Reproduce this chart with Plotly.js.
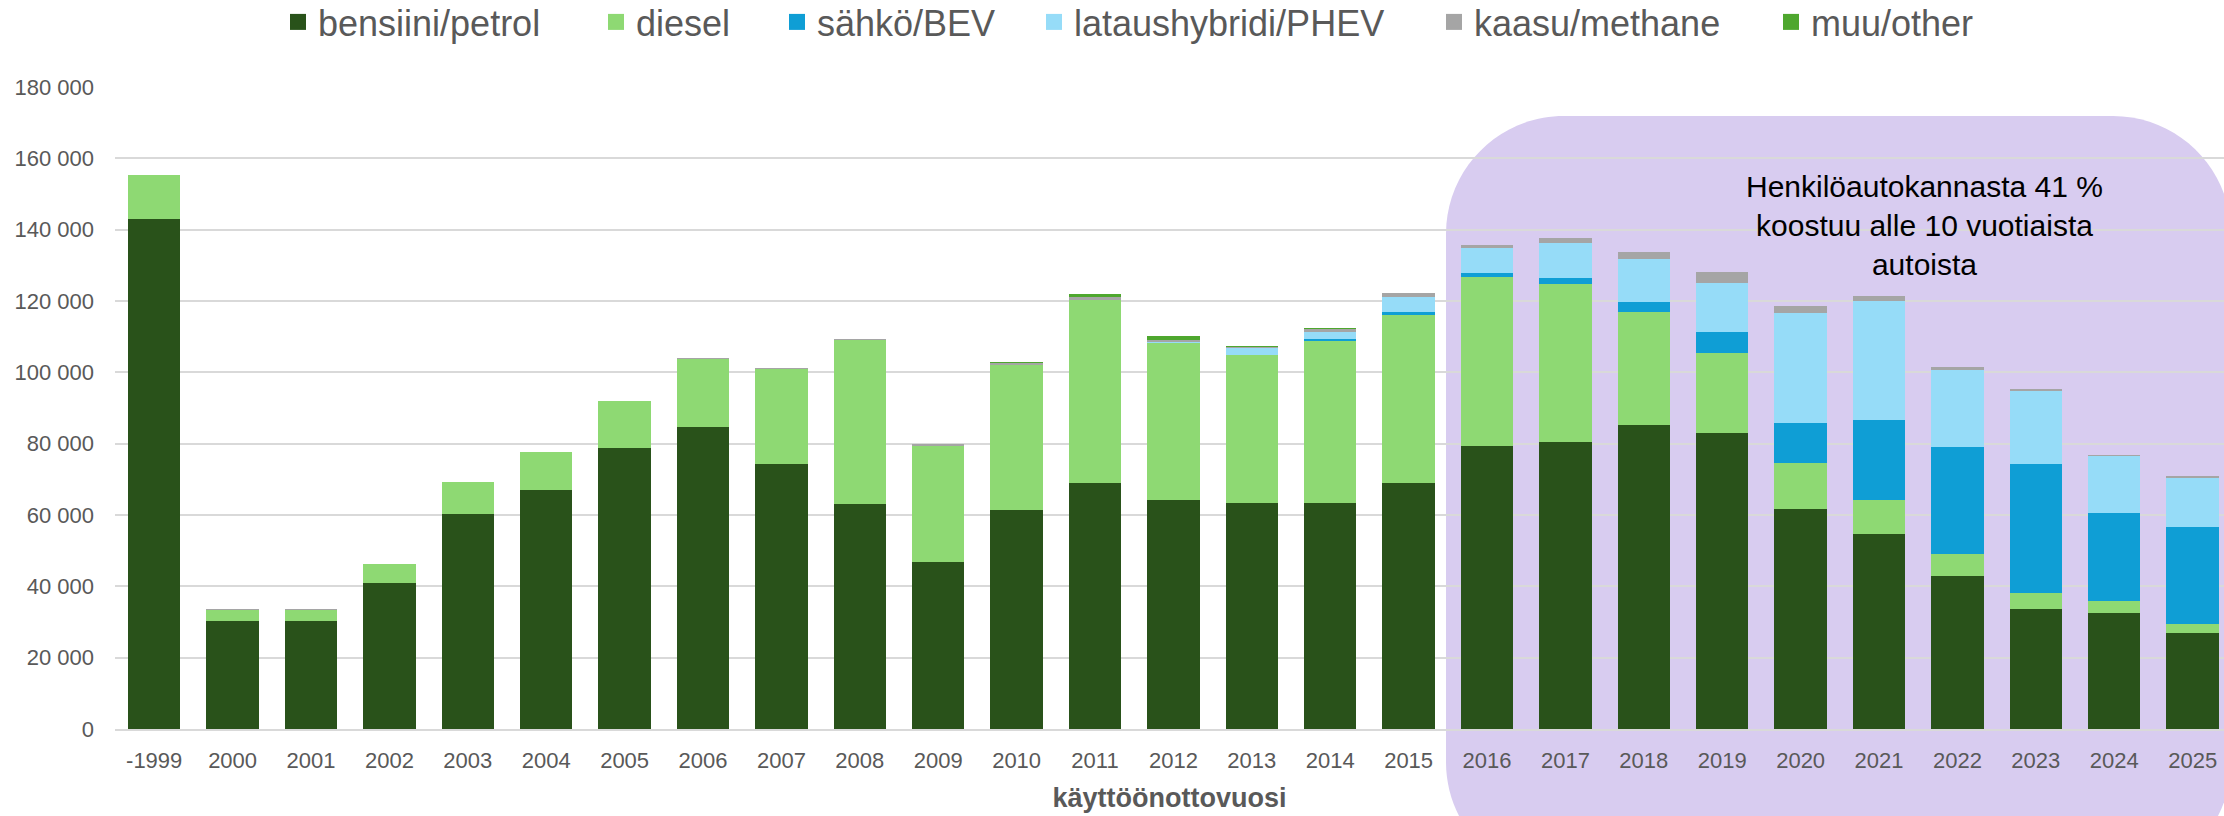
<!DOCTYPE html>
<html>
<head>
<meta charset="utf-8">
<script src="https://cdn.plot.ly/plotly-3.0.1.min.js"></script>
<style>html,body{margin:0;padding:0;background:#fff;}#chart{width:2224px;height:816px;}</style>
</head>
<body>
<div id="chart"></div>
<script>
// ---- data ----
const categories = ["-1999","2000","2001","2002","2003","2004","2005","2006","2007","2008","2009","2010","2011","2012","2013","2014","2015","2016","2017","2018","2019","2020","2021","2022","2023","2024","2025"];
const petrol  = [143000,30400,30400,40900,60300,67100,78900,84700,74300,63000,46800,61300,69000,64300,63300,63300,69100,79300,80500,85200,83100,61600,54800,42800,33600,32500,26800];
const diesel  = [12200,3100,3100,5400,8900,10600,13100,19100,26600,46000,32600,40800,51300,43800,41500,45600,47000,47400,44300,31800,22300,13000,9500,6400,4600,3300,2600];
const bev     = [0,0,0,0,0,0,0,0,0,0,0,0,0,100,100,400,700,1100,1650,2700,6000,11300,22300,29900,36100,24700,27200];
const phev    = [0,0,0,0,0,0,0,0,0,0,0,0,100,400,1800,1900,4300,7000,9800,12200,13600,30600,33500,21500,20600,16000,13900];
const methane = [0,100,100,100,100,100,100,200,300,300,400,400,800,600,500,900,1100,900,1400,1800,3000,2200,1300,900,400,300,300];
const other   = [0,0,0,0,0,0,0,0,0,0,0,400,900,1100,300,400,100,100,0,0,0,0,0,0,0,0,0];
const seriesNames = ["bensiini/petrol","diesel","sähkö/BEV","lataushybridi/PHEV","kaasu/methane","muu/other"];
const seriesColors = ["#29521A","#8ED973","#0F9ED5","#96DCF8","#A5A5A5","#4EA72E"];
const yTicks = [0,20000,40000,60000,80000,100000,120000,140000,160000,180000];
const xTitle = "käyttöönottovuosi";
const noteText = "Henkilöautokannasta 41 %<br>koostuu alle 10 vuotiaista<br>autoista";

// ---- layout geometry (pixels) ----
const W = 2224, H = 816;
const mL = 115, mR = 0, mT = 87, mB = 87;
const plotW = W - mL - mR, plotH = H - mT - mB;
const px2x = p => (p - mL) / plotW;
const px2y = p => (H - mB - p) / plotH;
const FONT = "'Liberation Sans', Arial, sans-serif";

// legend entry text start positions (pixels), one legend box per series
const legendTextStart = [318, 636, 817, 1074, 1474, 1811];

// rounded highlight box (pixel geometry)
const bx0 = 1446, bx1 = 2231, by0 = 116, by1 = 880, rad = 118;
const k = 0.5523 * rad;
function P(x, y) { return px2x(x).toFixed(5) + "," + px2y(y).toFixed(5); }
const boxPath =
  "M" + P(bx0 + rad, by0) +
  " L" + P(bx1 - rad, by0) +
  " C" + P(bx1 - rad + k, by0) + " " + P(bx1, by0 + rad - k) + " " + P(bx1, by0 + rad) +
  " L" + P(bx1, by1 - rad) +
  " C" + P(bx1, by1 - rad + k) + " " + P(bx1 - rad + k, by1) + " " + P(bx1 - rad, by1) +
  " L" + P(bx0 + rad, by1) +
  " C" + P(bx0 + rad - k, by1) + " " + P(bx0, by1 - rad + k) + " " + P(bx0, by1 - rad) +
  " L" + P(bx0, by0 + rad) +
  " C" + P(bx0, by0 + rad - k) + " " + P(bx0 + rad - k, by0) + " " + P(bx0 + rad, by0) + " Z";

const values = [petrol, diesel, bev, phev, methane, other];
const legendIds = ["legend", "legend2", "legend3", "legend4", "legend5", "legend6"];

// stacked bars (legend entries shown via square-marker proxies below)
const barTraces = values.map((v, i) => ({
  type: "bar",
  name: seriesNames[i],
  x: categories,
  y: v,
  legendgroup: "g" + i,
  showlegend: false,
  marker: { color: seriesColors[i], line: { width: 0 } }
}));
const legendTraces = seriesNames.map((n, i) => ({
  type: "scatter",
  mode: "markers",
  name: n,
  x: [null], y: [null],
  legendgroup: "g" + i,
  legend: legendIds[i],
  showlegend: true,
  marker: { symbol: "square", size: 20, color: seriesColors[i], line: { width: 0 } }
}));

const layout = {
  width: W, height: H,
  margin: { l: mL, r: mR, t: mT, b: mB, pad: 0, autoexpand: false },
  paper_bgcolor: "#ffffff",
  plot_bgcolor: "rgba(0,0,0,0)",
  barmode: "stack",
  bargap: 0.333,
  separators: ", ",
  showlegend: true,
  xaxis: {
    type: "category",
    categoryorder: "array", categoryarray: categories,
    range: [-0.5, 26.4],
    showgrid: false,
    showline: true, linecolor: "#d9d9d9", linewidth: 2,
    ticks: "", ticklabelstandoff: 11,
    tickfont: { family: FONT, size: 22, color: "#595959" },
    title: { text: xTitle, font: { family: FONT, size: 27, color: "#595959", weight: "bold" }, standoff: 16 },
    automargin: false,
    fixedrange: true
  },
  yaxis: {
    range: [0, 180000],
    tickvals: yTicks,
    tickformat: ",.0f",
    showgrid: true, gridcolor: "#d9d9d9", gridwidth: 2,
    zeroline: false,
    showline: false,
    ticks: "", ticklabelstandoff: 20,
    tickfont: { family: FONT, size: 22, color: "#595959" },
    automargin: false,
    fixedrange: true
  },
  shapes: [{
    type: "path", xref: "paper", yref: "paper", layer: "below",
    path: boxPath, fillcolor: "#D8CCF0", line: { width: 0 }
  }],
  annotations: [{
    xref: "paper", yref: "paper",
    x: px2x(1924), y: px2y(225),
    xanchor: "center", yanchor: "middle",
    text: noteText, showarrow: false, align: "center",
    font: { family: FONT, size: 30, color: "#000000" }
  }]
};

legendIds.forEach((id, i) => {
  layout[id] = {
    orientation: "h",
    x: px2x(legendTextStart[i] - 40), xanchor: "left",
    y: px2y(22), yanchor: "middle",
    itemsizing: "trace",
    font: { family: FONT, size: 36, color: "#595959" },
    bgcolor: "rgba(0,0,0,0)",
    borderwidth: 0
  };
});

Plotly.newPlot("chart", barTraces.concat(legendTraces), layout, { staticPlot: true, displayModeBar: false });
</script>
</body>
</html>
